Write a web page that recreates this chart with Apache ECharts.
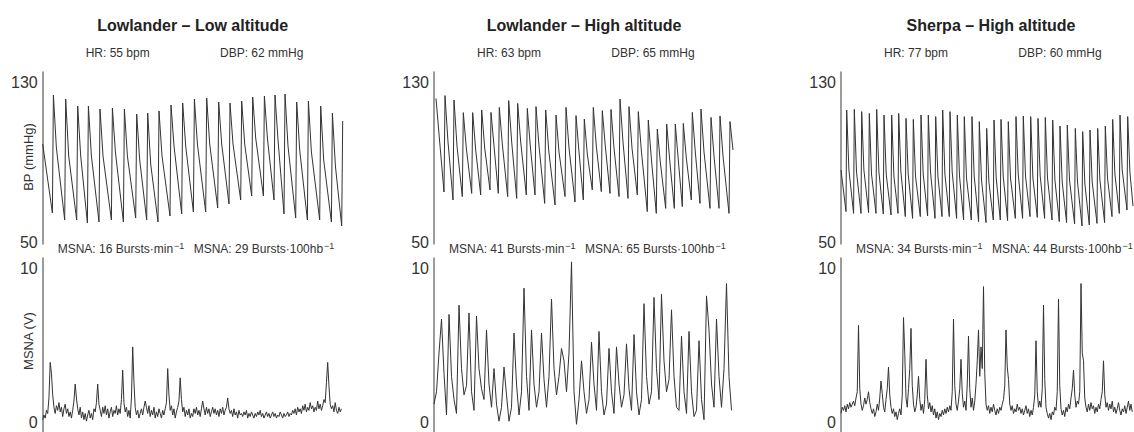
<!DOCTYPE html>
<html>
<head>
<meta charset="utf-8">
<style>
  html, body { margin: 0; padding: 0; background: #fff; }
  #chart { width: 1134px; height: 432px; }
</style>
</head>
<body>
<div id="chart"></div>
<script src="https://cdn.jsdelivr.net/npm/echarts@6/dist/echarts.min.js"></script>
<script>
// panel headers
const titles = ['Lowlander – Low altitude', 'Lowlander – High altitude', 'Sherpa – High altitude']
const hrLabels = ['HR: 55 bpm', 'HR: 63 bpm', 'HR: 77 bpm']
const dbpLabels = ['DBP: 62 mmHg', 'DBP: 65 mmHg', 'DBP: 60 mmHg']
const burstsPerMin = [16, 41, 34]
const burstsPer100hb = [29, 65, 44]

// tick labels
const bpTicks = [50, 130]
const msnaTicks = [0, 10]

// BP traces, one entry per beat: time of systolic peak (s), systolic, diastolic just before it, dicrotic notch (mmHg)
const bpPeakTime1 = [1.07, 2.3, 3.5, 4.57, 5.73, 6.97, 8.17, 9.4, 10.5, 11.63, 12.83, 14, 15.17, 16.4, 17.6, 18.73, 19.9, 21, 22.17, 23.23, 24.23, 25.4, 26.57, 27.8, 28.97, 30]
const bpSys1 = [123.5, 121.5, 118, 118, 116.5, 117, 116.5, 114, 114.5, 115.5, 118.5, 119.5, 121.5, 122, 120, 119.5, 120.5, 122.5, 123, 123.5, 124, 120, 120.5, 118, 114.5, 110.5]
const bpDia1 = [64.5, 61, 61, 59.5, 60, 61, 60, 62, 61, 60, 63, 64, 65, 65, 67, 69, 71, 73, 73, 71, 64, 62, 61, 61, 60, 58]
const bpNotch1 = [97, 93, 93, 93, 93, 95, 93, 91, 89, 93, 98, 98, 99, 99, 99, 99, 99, 102, 102, 101, 98, 96, 95, 91, 88, null]
const bpStart1 = 99

const bpPeakTime2 = [0.2, 1.1, 2.0, 2.93, 3.87, 4.77, 5.7, 6.53, 7.47, 8.37, 9.33, 10.2, 11.17, 12.2, 13.2, 14.2, 15.03, 15.93, 16.83, 17.7, 18.6, 19.5, 20.43, 21.43, 22.33, 23.27, 24.13, 24.93, 25.83, 26.7, 27.7, 28.6, 29.6]
const bpSys2 = [121.8, 123.2, 121, 114.7, 114.7, 116, 114.8, 117.3, 120.7, 119.3, 116.8, 117.7, 116, 113.5, 117.3, 113.2, 111.5, 117.3, 115.7, 116.3, 121.5, 117.7, 115.2, 111, 106.5, 109, 109, 109.3, 114.8, 116.5, 112.3, 113, 110.2]
const bpDia2 = [null, 75, 71, 72.7, 74.3, 73.5, 76, 74.3, 72.7, 71.8, 73.5, 73.5, 69.3, 68.5, 72.7, 70, 71, 76, 75.2, 74.3, 72.7, 71.8, 73.5, 65.2, 64.3, 66.8, 66.8, 67.7, 71, 69.3, 66.8, 66.8, 64.3]
const bpNotch2 = [104, 100, 98, 97, 96, 97, 98, 99, 100, 100, 98, 98, 96, 95, 97, 95, 94, 98, 98, 97, 100, 97, 96, 92, 90, 91, 91, 92, 95, 95, 93, 93, 96]
const bpStart2 = null

const bpPeakTime3 = [0.57, 1.33, 2.07, 2.83, 3.57, 4.3, 5.07, 5.77, 6.5, 7.23, 8.0, 8.73, 9.47, 10.17, 10.9, 11.63, 12.33, 13.1, 13.83, 14.57, 15.3, 16.0, 16.73, 17.5, 18.23, 18.97, 19.7, 20.43, 21.17, 21.9, 22.63, 23.43, 24.17, 24.9, 25.67, 26.43, 27.17, 27.9, 28.67]
const bpSys3 = [116, 116.3, 115.2, 114.3, 116.3, 113.5, 113.5, 114.3, 111.8, 111.3, 113.5, 113.5, 112.7, 116, 115.2, 113.5, 112.7, 112.7, 110.2, 106.8, 111, 111.3, 110.2, 112.7, 113, 112.7, 111.8, 112.3, 111, 108, 108.5, 106.8, 105.2, 106, 106.8, 108, 111.3, 113.5, 112.7]
const bpDia3 = [65.2, 64.3, 64.3, 64.7, 64.3, 64, 63.5, 64.3, 62.7, 61.8, 62.7, 63, 61.8, 62.7, 62.7, 61.8, 61, 61, 60.2, 59.7, 61, 61, 60.7, 61.8, 61.8, 62.7, 62.3, 61.8, 61, 60.2, 59.7, 59, 58, 58.5, 59.3, 59.7, 62.7, 64.3, 66]
const bpNotch3 = [86, 85, 86, 84, 85, 84, 83, 85, 84, 83, 84, 85, 83, 84, 85, 83, 82, 83, 81, 80, 82, 83, 82, 84, 83, 82, 83, 82, 81, 80, 81, 80, 79, 80, 81, 82, 84, 86, 85]
const bpStart3 = 86
const bpEnd3 = [29.2, 68]

// MSNA traces (V), sampled every msnaStep seconds
const msnaStep = [0.125, 0.25, 0.125]
const msna1 = [
  0.2, 0.5, 0.3, 0.8, 0.6, 1.6, 3.9, 3.2, 1.8, 1.0, 0.6, 1.1, 0.8, 1.3, 0.7, 1.0, 0.4, 0.9, 1.2, 0.6,
  0.9, 0.4, 0.7, 0.3, 0.8, 1.4, 2.5, 1.6, 0.9, 0.5, 1.0, 0.3, 0.7, 0.2, 0.6, 0.1, 0.5, 0.8, 0.3, 0.6,
  0.2, 0.9, 0.7, 1.3, 2.5, 1.2, 0.8, 0.4, 1.0, 0.6, 1.1, 0.5, 0.9, 0.3, 0.7, 1.0, 0.4, 0.8, 0.6, 1.1,
  0.5, 0.9, 0.6, 1.5, 3.4, 1.3, 0.7, 1.0, 0.4, 0.8, 0.3, 1.6, 4.9, 2.6, 1.0, 0.5, 0.8, 0.3, 0.6, 0.9,
  0.5, 1.0, 1.4, 1.0, 0.6, 1.1, 0.4, 0.8, 0.5, 1.0, 0.3, 0.7, 0.4, 0.9, 0.6, 0.3, 0.8, 0.5, 0.9, 1.3,
  3.5, 1.8, 0.8, 1.1, 0.5, 0.9, 0.3, 0.7, 1.0, 1.4, 2.9, 1.5, 0.7, 1.0, 0.4, 0.8, 0.5, 0.9, 0.3, 0.6,
  0.4, 0.9, 0.6, 1.0, 0.5, 0.8, 0.4, 0.9, 1.4, 0.9, 0.5, 1.0, 0.6, 0.9, 0.4, 0.7, 1.0, 0.6, 0.9, 0.5,
  0.8, 0.4, 0.9, 0.6, 1.0, 0.5, 0.8, 1.0, 1.6, 0.9, 0.6, 0.8, 0.4, 0.9, 0.5, 0.7, 0.3, 0.8, 0.5, 0.6,
  0.4, 0.7, 0.5, 0.8, 0.3, 0.6, 0.4, 0.7, 0.5, 0.3, 0.6, 0.4, 0.7, 0.5, 0.8, 0.4, 0.6, 0.3, 0.5, 0.7,
  0.4, 0.6, 0.3, 0.5, 0.7, 0.4, 0.6, 0.3, 0.5, 0.4, 0.7, 0.5, 0.3, 0.6, 0.4, 0.5, 0.7, 0.4, 0.6, 0.5,
  0.8, 0.6, 0.9, 0.5, 1.0, 0.7, 0.9, 0.6, 1.1, 0.8, 1.2, 0.7, 1.0, 0.8, 1.3, 0.9, 1.1, 0.7, 1.0, 0.8,
  1.4, 0.9, 1.2, 0.8, 1.1, 1.5, 1.3, 2.6, 3.9, 2.4, 1.2, 0.9, 1.1, 0.7, 1.3, 0.8, 0.6, 1.0, 0.7, 0.9]
const msna2 = [
  1.2, 2.0, 4.5, 6.7, 3.2, 0.5, 7.0, 3.0, 1.5, 0.6, 7.6, 3.5, 1.8, 2.4, 7.1, 2.0, 0.8, 6.9, 3.5, 2.2,
  1.5, 6.0, 2.5, 1.0, 3.5, 1.2, 0.1, 1.0, 3.6, 1.8, 0.1, 1.0, 5.8, 2.5, 0.5, 2.0, 8.7, 3.0, 0.8, 6.0,
  2.5, 1.0, 2.0, 5.8, 2.8, 1.0, 3.0, 8.0, 3.5, 1.8, 3.0, 4.8, 4.0, 2.0, 4.5, 10.4, 2.0, -0.1, 1.5, 4.0,
  2.0, 0.6, 1.5, 5.2, 2.5, 0.8, 5.9, 2.0, 0.5, 1.2, 4.8, 2.0, 0.6, 4.9, 2.5, 1.0, 1.8, 5.1, 2.2, 0.8,
  5.7, 2.0, 0.5, 1.5, 7.7, 3.0, 1.2, 2.0, 8.1, 3.5, 1.5, 8.3, 4.0, 2.0, 2.8, 7.3, 3.0, 1.0, 0.8, 5.6,
  2.0, 0.6, 5.9, 2.0, 0.4, 0.8, 5.3, 1.5, 0.2, 8.2, 6.0, 2.5, 1.0, 6.7, 3.0, 1.0, 3.5, 9.0, 3.0, 0.8]
const msna3 = [
  0.6, 1.0, 0.8, 1.1, 0.7, 1.2, 0.9, 1.3, 1.0, 1.2, 1.4, 1.1, 1.6, 2.0, 6.3, 2.2, 1.2, 0.8, 1.1, 1.6,
  1.2, 1.5, 2.0, 1.3, 0.9, 0.6, 0.9, 0.4, 0.7, 1.2, 0.8, 1.6, 2.7, 1.9, 1.0, 0.7, 1.5, 2.2, 3.6, 1.8,
  1.0, 0.6, 0.9, 0.4, 0.7, 0.2, 0.6, 0.9, 0.5, 1.8, 6.8, 4.5, 1.6, 1.0, 2.2, 3.5, 6.1, 2.4, 1.2, 0.7,
  1.0, 1.8, 3.0, 1.5, 0.8, 1.2, 0.6, 1.5, 4.1, 1.8, 0.9, 1.3, 0.7, 1.1, 0.5, 0.9, 0.3, 0.7, 0.2, 0.6,
  0.4, 0.8, 0.5, 0.9, 0.6, 1.0, 0.7, 1.1, 0.8, 2.0, 6.7, 2.4, 1.2, 0.8, 1.4, 2.2, 4.1, 1.9, 1.0, 1.4,
  0.8, 2.5, 5.6, 2.2, 1.0, 1.6, 0.8, 1.4, 2.5, 4.0, 6.0, 3.0, 4.9, 3.5, 8.8, 3.2, 1.2, 0.8, 1.1, 0.6,
  1.0, 0.7, 1.2, 0.8, 0.5, 0.9, 0.6, 1.0, 0.8, 1.2, 1.5, 2.4, 6.0, 3.6, 2.8, 1.2, 0.8, 1.1, 0.6, 0.9,
  0.7, 1.2, 0.8, 1.0, 0.6, 0.9, 0.5, 0.8, 1.1, 0.6, 0.9, 0.4, 0.8, 0.5, 1.0, 1.8, 5.3, 2.0, 1.0, 1.4,
  1.0, 2.2, 7.6, 2.8, 1.0, 0.6, 0.3, 0.6, 0.2, 0.7, 0.5, 1.0, 0.8, 2.0, 8.0, 2.4, 0.9, 0.5, 0.8, 0.4,
  1.0, 0.7, 1.2, 0.9, 1.6, 2.2, 3.4, 1.8, 1.0, 1.4, 1.2, 2.0, 9.0, 4.5, 4.0, 1.6, 1.0, 0.7, 1.2, 0.8,
  1.3, 0.9, 1.1, 0.6, 1.0, 0.7, 1.2, 0.9, 1.5, 2.0, 4.0, 1.8, 1.0, 1.3, 0.8, 1.2, 0.9, 1.4, 0.7, 1.0,
  0.6, 0.9, 1.3, 0.8, 0.5, 0.9, 0.7, 1.1, 0.6, 1.0, 1.4, 0.8, 1.2, 0.7]

// layout
const panelLeft = [42.7, 434, 841]
const panelWidth = [300, 300, 292]
const panelSpan = [30, 30, 29.2]
const notchDelay = [0.3, 0.3, 0.22]
const riseTime = [0.1, 0.1, 0.07]
const FONT = '"Liberation Sans", Arial, Helvetica, sans-serif'
const TRACE = '#333'
const AXIS = '#7a7a7a'

function bpLine(p, peakTime, sys, dia, notch, start, end) {
  const pts = []
  if (start != null) pts.push([0, start])
  peakTime.forEach((t, i) => {
    if (dia[i] != null) pts.push([t - riseTime[p], dia[i]])
    pts.push([t, sys[i]])
    if (notch[i] != null) pts.push([t + notchDelay[p], notch[i]])
  })
  if (end) pts.push(end)
  return pts
}

const bpData = [
  bpLine(0, bpPeakTime1, bpSys1, bpDia1, bpNotch1, bpStart1),
  bpLine(1, bpPeakTime2, bpSys2, bpDia2, bpNotch2, bpStart2),
  bpLine(2, bpPeakTime3, bpSys3, bpDia3, bpNotch3, bpStart3, bpEnd3)
]
const msnaData = [msna1, msna2, msna3].map((arr, p) => arr.map((v, i) => [i * msnaStep[p], v]))

const grids = [], xAxes = [], yAxes = [], series = [], graphics = []

for (let p = 0; p < 3; p++) {
  const left = panelLeft[p]
  // BP grid then MSNA grid
  grids.push({ left: left, top: 72, width: panelWidth[p], height: 172 })
  grids.push({ left: left, top: 258, width: panelWidth[p], height: 174 })

  for (let k = 0; k < 2; k++) {
    const idx = p * 2 + k
    xAxes.push({ type: 'value', gridIndex: idx, min: 0, max: panelSpan[p], show: false })
    yAxes.push({
      type: 'value',
      gridIndex: idx,
      min: k === 0 ? 49 : -0.6,
      max: k === 0 ? 135 : 10.65,
      axisLine: { show: true, lineStyle: { color: AXIS, width: 1.5 } },
      axisTick: { show: false },
      splitLine: { show: false },
      axisLabel: {
        customValues: k === 0 ? bpTicks : msnaTicks,
        color: '#333',
        fontSize: 16,
        fontFamily: FONT,
        margin: 5
      }
    })
    series.push({
      type: 'line',
      xAxisIndex: idx,
      yAxisIndex: idx,
      data: k === 0 ? bpData[p] : msnaData[p],
      showSymbol: false,
      lineStyle: { color: TRACE, width: 1 },
      silent: true
    })
  }

  graphics.push(
    { type: 'text', x: left + 150, y: 25, style: { text: titles[p], fontSize: 16, fontWeight: 'bold', fontFamily: FONT, fill: '#222', align: 'center', verticalAlign: 'middle' } },
    { type: 'text', x: left + 75, y: 53, style: { text: hrLabels[p], fontSize: 12, fontFamily: FONT, fill: '#333', align: 'center', verticalAlign: 'middle' } },
    { type: 'text', x: left + 219, y: 53, style: { text: dbpLabels[p], fontSize: 12, fontFamily: FONT, fill: '#333', align: 'center', verticalAlign: 'middle' } }
  )
  const rich = {
    b: { fontSize: 12, fontFamily: FONT, fill: '#333' },
    s: { fontSize: 9, fontFamily: FONT, fill: '#333', padding: [0, 0, 7, 1] }
  }
  graphics.push(
    { type: 'text', x: left + 15, y: 249, style: { text: '{b|MSNA: ' + burstsPerMin[p] + ' Bursts·min}{s|−1}', rich: rich, align: 'left', verticalAlign: 'middle' } },
    { type: 'text', x: left + 151, y: 249, style: { text: '{b|MSNA: ' + burstsPer100hb[p] + ' Bursts·100hb}{s|−1}', rich: rich, align: 'left', verticalAlign: 'middle' } }
  )
}

// y axis names (first panel only)
graphics.push(
  { type: 'text', x: 28, y: 157, rotation: Math.PI / 2, style: { text: 'BP (mmHg)', fontSize: 13, fontFamily: FONT, fill: '#333', align: 'center', verticalAlign: 'middle' } },
  { type: 'text', x: 28, y: 341, rotation: Math.PI / 2, style: { text: 'MSNA (V)', fontSize: 13, fontFamily: FONT, fill: '#333', align: 'center', verticalAlign: 'middle' } }
)

const chart = echarts.init(document.getElementById('chart'), null, { renderer: 'svg' })
chart.setOption({
  animation: false,
  backgroundColor: '#fff',
  grid: grids,
  xAxis: xAxes,
  yAxis: yAxes,
  series: series,
  graphic: graphics
})
</script>
</body>
</html>
